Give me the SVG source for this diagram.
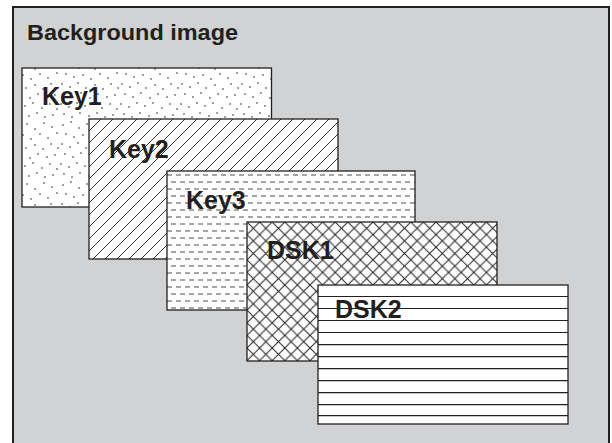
<svg xmlns="http://www.w3.org/2000/svg" width="612" height="443" viewBox="0 0 612 443">
<style>
.lbl{font-family:"Liberation Sans",Arial,sans-serif;font-weight:bold;font-size:25px;fill:#231f20}
.box{stroke:#231f20;stroke-width:1.3}
.ln{stroke:#231f20;stroke-width:1.2}
</style>
<defs>
<pattern id="dots" width="60" height="60" patternUnits="userSpaceOnUse">
<rect width="60" height="60" fill="#fff"/>
<g fill="#231f20">
<circle cx="3" cy="5" r="0.8"/><circle cx="11" cy="2" r="0.8"/><circle cx="19" cy="8" r="0.8"/><circle cx="27" cy="4" r="0.8"/><circle cx="35" cy="9" r="0.8"/><circle cx="44" cy="3" r="0.8"/><circle cx="52" cy="7" r="0.8"/><circle cx="57" cy="13" r="0.8"/>
<circle cx="6" cy="14" r="0.8"/><circle cx="14" cy="17" r="0.8"/><circle cx="23" cy="15" r="0.8"/><circle cx="31" cy="19" r="0.8"/><circle cx="40" cy="14" r="0.8"/><circle cx="48" cy="18" r="0.8"/>
<circle cx="2" cy="24" r="0.8"/><circle cx="10" cy="27" r="0.8"/><circle cx="18" cy="23" r="0.8"/><circle cx="26" cy="28" r="0.8"/><circle cx="35" cy="25" r="0.8"/><circle cx="43" cy="29" r="0.8"/><circle cx="51" cy="24" r="0.8"/><circle cx="58" cy="28" r="0.8"/>
<circle cx="5" cy="34" r="0.8"/><circle cx="13" cy="37" r="0.8"/><circle cx="21" cy="33" r="0.8"/><circle cx="30" cy="38" r="0.8"/><circle cx="38" cy="34" r="0.8"/><circle cx="47" cy="37" r="0.8"/><circle cx="55" cy="35" r="0.8"/>
<circle cx="1" cy="44" r="0.8"/><circle cx="9" cy="47" r="0.8"/><circle cx="17" cy="43" r="0.8"/><circle cx="25" cy="46" r="0.8"/><circle cx="33" cy="43" r="0.8"/><circle cx="42" cy="48" r="0.8"/><circle cx="50" cy="44" r="0.8"/><circle cx="57" cy="49" r="0.8"/>
<circle cx="4" cy="54" r="0.8"/><circle cx="12" cy="57" r="0.8"/><circle cx="20" cy="53" r="0.8"/><circle cx="29" cy="56" r="0.8"/><circle cx="37" cy="53" r="0.8"/><circle cx="45" cy="57" r="0.8"/><circle cx="53" cy="55" r="0.8"/>
</g>
</pattern>
<pattern id="diag" width="12" height="12" patternUnits="userSpaceOnUse" x="89" y="119">
<rect width="12" height="12" fill="#fff"/>
<path d="M0,12 L12,0 M-6,6 L6,-6 M6,18 L18,6" stroke="#231f20" stroke-width="0.9"/>
</pattern>
<pattern id="dash" width="9" height="14" patternUnits="userSpaceOnUse" x="167" y="171">
<rect width="9" height="14" fill="#fff"/>
<path d="M0,4 H5 M4,11 H9" stroke="#4d4d4f" stroke-width="1"/>
</pattern>
<pattern id="cross" width="12.6" height="12.6" patternUnits="userSpaceOnUse" x="247" y="222">
<rect width="12.6" height="12.6" fill="#fff"/>
<path d="M0,0 L12.6,12.6 M12.6,0 L0,12.6" stroke="#231f20" stroke-width="1"/>
</pattern>
</defs>
<rect id="frame" x="13" y="7" width="596" height="445" fill="#d1d2d4" stroke="#231f20" stroke-width="2"/>
<text x="27" y="40" class="lbl" style="font-size:22px" textLength="211" lengthAdjust="spacingAndGlyphs">Background image</text>
<g id="key1">
<rect class="box" x="22" y="68" width="249.5" height="139" fill="url(#dots)"/>
<text class="lbl" x="42" y="105">Key1</text>
</g>
<g id="key2">
<rect class="box" x="89" y="119" width="249" height="140" fill="url(#diag)"/>
<text class="lbl" x="109" y="158">Key2</text>
</g>
<g id="key3">
<rect class="box" x="167" y="171" width="248" height="139" fill="url(#dash)"/>
<text class="lbl" x="186" y="209">Key3</text>
</g>
<g id="dsk1">
<rect class="box" x="247" y="222" width="250" height="139" fill="url(#cross)"/>
<text class="lbl" x="267" y="259">DSK1</text>
</g>
<g id="dsk2">
<rect class="box" x="318" y="285" width="250" height="139" fill="#fff"/>
<text class="lbl" x="335" y="318">DSK2</text>
<path class="ln" d="M318,296.5H568M318,308.5H568M318,320.5H568M318,332.5H568M318,344.7H568M318,356.7H568M318,368.7H568M318,380.7H568M318,392.7H568M318,404.7H568M318,415.7H568"/>
</g>
</svg>
